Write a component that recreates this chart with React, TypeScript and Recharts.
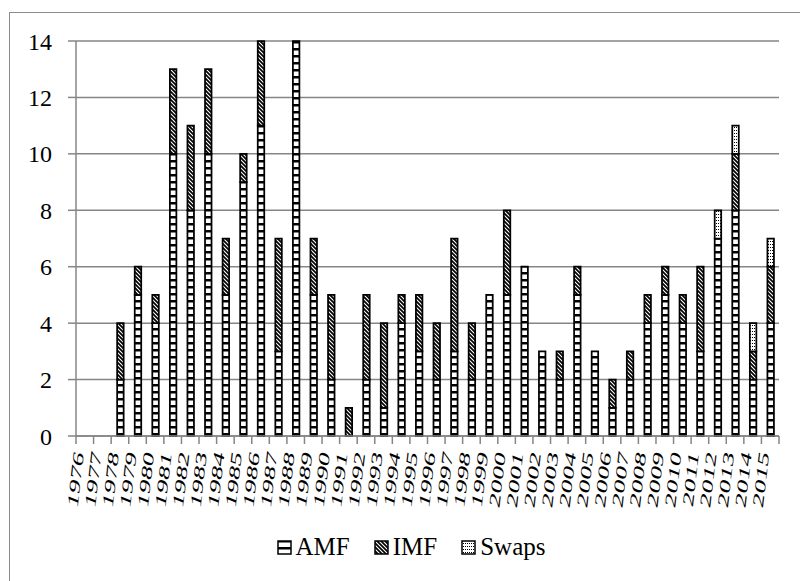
import { BarChart, Bar, XAxis, YAxis, CartesianGrid } from "recharts"

const years = [
  "1976", "1977", "1978", "1979", "1980", "1981", "1982", "1983", "1984", "1985",
  "1986", "1987", "1988", "1989", "1990", "1991", "1992", "1993", "1994", "1995",
  "1996", "1997", "1998", "1999", "2000", "2001", "2002", "2003", "2004", "2005",
  "2006", "2007", "2008", "2009", "2010", "2011", "2012", "2013", "2014", "2015",
]
const amf = [0, 0, 2, 5, 4, 10, 8, 10, 5, 9, 11, 3, 14, 5, 2, 0, 2, 1, 4, 3, 2, 3, 2, 5, 5, 6, 3, 2, 5, 3, 1, 2, 4, 5, 4, 3, 7, 8, 2, 4]
const imf = [0, 0, 2, 1, 1, 3, 3, 3, 2, 1, 3, 4, 0, 2, 3, 1, 3, 3, 1, 2, 2, 4, 2, 0, 3, 0, 0, 1, 1, 0, 1, 1, 1, 1, 1, 3, 0, 2, 1, 2]
const swaps = [0, 0, 0, 0, 0, 0, 0, 0, 0, 0, 0, 0, 0, 0, 0, 0, 0, 0, 0, 0, 0, 0, 0, 0, 0, 0, 0, 0, 0, 0, 0, 0, 0, 0, 0, 0, 1, 1, 1, 1]
const yTicks = [0, 2, 4, 6, 8, 10, 12, 14]

const data = years.map((year, i) => ({ year, AMF: amf[i], IMF: imf[i], Swaps: swaps[i] }))

const FONT = "'Liberation Serif', 'Times New Roman', serif"
const AXIS = "#868686"
const PLOT_LEFT = 66
const PLOT_RIGHT = 769
const STEP = (PLOT_RIGHT - PLOT_LEFT) / years.length

// rotated, horizontally squeezed year labels with tick marks between categories
const YearTick = (props: any) => {
  const { x, y, payload, index } = props
  const left = x - STEP / 2
  return (
    <g>
      <line x1={left} y1={y} x2={left} y2={y + 8} stroke={AXIS} strokeWidth={1.5} />
      {index === years.length - 1 && (
        <line x1={x + STEP / 2} y1={y} x2={x + STEP / 2} y2={y + 8} stroke={AXIS} strokeWidth={1.5} />
      )}
      <text
        transform={`translate(${x - 1},${y + 18}) scale(0.55,1) rotate(-78)`}
        textAnchor="end"
        fontFamily={FONT}
        fontSize={28}
        fill="#000"
      >
        {payload.value}
      </text>
    </g>
  )
}

const Patterns = () => (
  <defs>
    <pattern id="pAmf" width="8" height="7" patternUnits="userSpaceOnUse">
      <rect width="8" height="7" fill="#fff" />
      <rect y="0" width="8" height="2.5" fill="#000" />
    </pattern>
    <pattern id="pImf" width="4" height="4" patternUnits="userSpaceOnUse">
      <rect width="4" height="4" fill="#000" />
      <path d="M-1,-1 L5,5 M-1,3 L1,5 M3,-1 L5,1" stroke="#fff" strokeWidth="1.1" />
    </pattern>
    <pattern id="pSwaps" width="2" height="3" patternUnits="userSpaceOnUse">
      <rect width="2" height="3" fill="#fff" />
      <rect x="0" y="0" width="1" height="1" fill="#000" />
    </pattern>
  </defs>
)

const legendItems = [
  { name: "AMF", fill: "url(#pAmf)" },
  { name: "IMF", fill: "url(#pImf)" },
  { name: "Swaps", fill: "url(#pSwaps)" },
]

export default function App() {
  return (
    <div
      style={{
        position: "absolute",
        left: 9,
        top: 12,
        width: 791,
        height: 569,
        boxSizing: "border-box",
        borderLeft: "1px solid #8c8c8c",
        borderTop: "1px solid #8c8c8c",
        background: "#fff",
        fontFamily: FONT,
      }}
    >
      <BarChart
        width={790}
        height={568}
        data={data}
        margin={{ top: 28, right: 21, left: 0, bottom: 85 }}
        barSize={6.5}
      >
        <Patterns />
        <CartesianGrid vertical={false} stroke={AXIS} strokeWidth={1.5} />
        <XAxis
          dataKey="year"
          height={60}
          interval={0}
          tickSize={0}
          tickMargin={0}
          tickLine={false}
          axisLine={{ stroke: AXIS, strokeWidth: 1.5 }}
          tick={<YearTick />}
        />
        <YAxis
          width={66}
          domain={[0, 14]}
          ticks={yTicks}
          interval={0}
          tickSize={8}
          tickMargin={16}
          axisLine={{ stroke: AXIS, strokeWidth: 1.5 }}
          tickLine={{ stroke: AXIS, strokeWidth: 1.5 }}
          tick={{ fill: "#000", fontSize: 24, fontFamily: FONT }}
        />
        <Bar dataKey="AMF" stackId="a" fill="url(#pAmf)" stroke="#000" strokeWidth={1.75} isAnimationActive={false} />
        <Bar dataKey="IMF" stackId="a" fill="url(#pImf)" stroke="#000" strokeWidth={1.75} isAnimationActive={false} />
        <Bar dataKey="Swaps" stackId="a" fill="url(#pSwaps)" stroke="#000" strokeWidth={1.75} isAnimationActive={false} />
      </BarChart>
      <div
        style={{
          position: "absolute",
          left: 6,
          top: 520,
          width: 790,
          display: "flex",
          justifyContent: "center",
          alignItems: "center",
          fontSize: 25,
          color: "#000",
        }}
      >
        {legendItems.map((item) => (
          <div key={item.name} style={{ display: "flex", alignItems: "center", margin: "0 12px" }}>
            <svg width={15} height={15} style={{ marginRight: 4 }}>
              <rect x={1} y={1} width={13} height={13} fill={item.fill} stroke="#000" strokeWidth={1.5} />
            </svg>
            <span>{item.name}</span>
          </div>
        ))}
      </div>
    </div>
  )
}
